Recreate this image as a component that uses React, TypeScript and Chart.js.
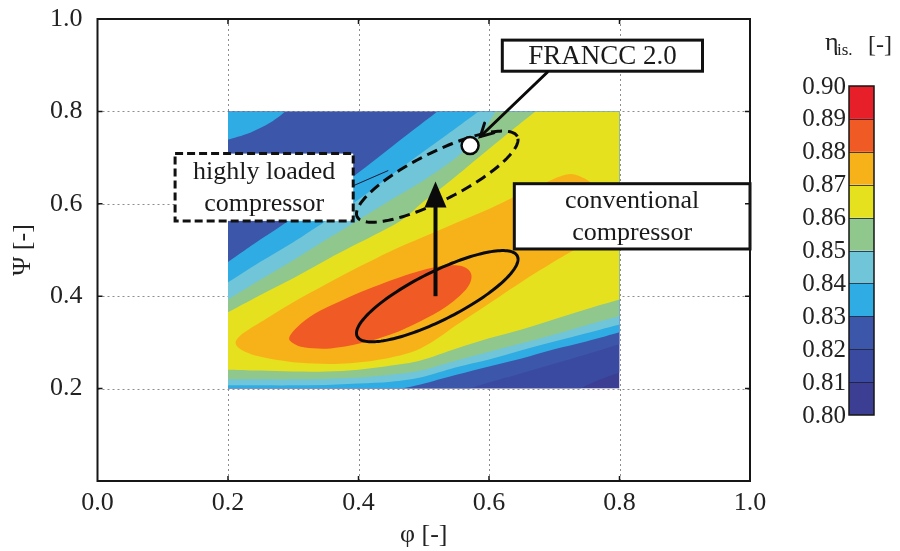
import React, { useEffect, useRef } from 'react';
import { Chart, registerables } from 'chart.js';

Chart.register(...registerables);

// ---------- data ----------
// extent of the efficiency map (phi, psi)
const DOMAIN_PHI = [0.2, 0.8];
const DOMAIN_PSI = [0.2, 0.8];

// iso-efficiency boundaries: region where eta >= level, points are [phi, psi]
const ISO_081 = [[0.2, 0.8], [0.8, 0.8], [0.8, 0.235], [0.771, 0.22], [0.74, 0.2], [0.2, 0.2]];
const ISO_082 = [[0.2, 0.8], [0.8, 0.8], [0.8, 0.296], [0.749, 0.274], [0.7, 0.254], [0.65, 0.233], [0.6, 0.213], [0.571, 0.2], [0.2, 0.2]];
const ISO_083_MAIN = [
  [0.2, 0.474], [0.249, 0.522], [0.3, 0.57], [0.35, 0.62], [0.392, 0.659], [0.43, 0.7], [0.475, 0.75], [0.521, 0.8],
  [0.8, 0.8], [0.8, 0.322], [0.749, 0.302], [0.7, 0.285], [0.65, 0.265], [0.6, 0.248], [0.55, 0.23], [0.495, 0.209],
  [0.464, 0.2], [0.2, 0.2],
];
const ISO_083_CORNER = [[0.2, 0.8], [0.288, 0.8], [0.265, 0.776], [0.234, 0.754], [0.2, 0.739]];
const ISO_084 = [
  [0.2, 0.43], [0.249, 0.474], [0.3, 0.517], [0.35, 0.563], [0.387, 0.596], [0.439, 0.65], [0.487, 0.7], [0.536, 0.75],
  [0.584, 0.8], [0.8, 0.8], [0.8, 0.339], [0.749, 0.32], [0.7, 0.302], [0.65, 0.283], [0.6, 0.263], [0.55, 0.246],
  [0.495, 0.224], [0.45, 0.215], [0.4, 0.211], [0.35, 0.208], [0.3, 0.207], [0.249, 0.207], [0.2, 0.207],
];
const ISO_085 = [
  [0.2, 0.393], [0.249, 0.435], [0.3, 0.478], [0.35, 0.522], [0.4, 0.565], [0.45, 0.609], [0.499, 0.65], [0.55, 0.7],
  [0.587, 0.75], [0.61, 0.8], [0.8, 0.8], [0.8, 0.357], [0.749, 0.337], [0.7, 0.317], [0.65, 0.298], [0.6, 0.28],
  [0.55, 0.261], [0.495, 0.239], [0.45, 0.23], [0.4, 0.224], [0.35, 0.221], [0.3, 0.22], [0.249, 0.22], [0.2, 0.22],
];
const ISO_086 = [
  [0.2, 0.365], [0.249, 0.402], [0.3, 0.439], [0.35, 0.478], [0.4, 0.515], [0.464, 0.563], [0.499, 0.604], [0.541, 0.65],
  [0.584, 0.7], [0.627, 0.75], [0.671, 0.8], [0.8, 0.8], [0.8, 0.393], [0.749, 0.372], [0.7, 0.35], [0.65, 0.328],
  [0.6, 0.309], [0.55, 0.287], [0.495, 0.261], [0.45, 0.25], [0.4, 0.241], [0.35, 0.237], [0.3, 0.237], [0.249, 0.239],
  [0.2, 0.241],
];
const ISO_087 = [
  [0.212, 0.296], [0.219, 0.315], [0.249, 0.343], [0.3, 0.387], [0.35, 0.426], [0.4, 0.463], [0.45, 0.498], [0.499, 0.528],
  [0.55, 0.559], [0.6, 0.589], [0.639, 0.615], [0.679, 0.641], [0.717, 0.663], [0.74, 0.659], [0.763, 0.633],
  [0.771, 0.567], [0.755, 0.513], [0.728, 0.498], [0.679, 0.457], [0.617, 0.4], [0.556, 0.343], [0.495, 0.287],
  [0.433, 0.263], [0.372, 0.254], [0.311, 0.256], [0.257, 0.267], [0.226, 0.28],
];
const ISO_088 = [
  [0.294, 0.311], [0.3075, 0.335], [0.334, 0.363], [0.372, 0.389], [0.418, 0.417], [0.478, 0.448], [0.525, 0.465],
  [0.559, 0.465], [0.573, 0.446], [0.565, 0.415], [0.533, 0.376], [0.495, 0.346], [0.449, 0.317], [0.403, 0.298],
  [0.357, 0.287], [0.318, 0.289], [0.3, 0.298],
];

const LEVELS = [0.80, 0.81, 0.82, 0.83, 0.84, 0.85, 0.86, 0.87, 0.88, 0.89, 0.90];
const LEVEL_LABELS = ['0.80', '0.81', '0.82', '0.83', '0.84', '0.85', '0.86', '0.87', '0.88', '0.89', '0.90'];
const LEVEL_COLORS = ['#3c3e94', '#3a4aa1', '#3c56aa', '#2facE3', '#70c5d9', '#90c78d', '#e6e11e', '#f8b219', '#f05a25', '#e61f28'];

const REGIONS = [
  { level: 0.81, ring: ISO_081 },
  { level: 0.82, ring: ISO_082 },
  { level: 0.83, ring: ISO_083_MAIN },
  { level: 0.83, ring: ISO_083_CORNER },
  { level: 0.84, ring: ISO_084 },
  { level: 0.85, ring: ISO_085 },
  { level: 0.86, ring: ISO_086 },
  { level: 0.87, ring: ISO_087 },
  { level: 0.88, ring: ISO_088 },
];

const AXIS_TICKS = [0.0, 0.2, 0.4, 0.6, 0.8, 1.0];
const GRID_VALUES = [0.2, 0.4, 0.6, 0.8];

// annotations (data units)
const FRANCC_POINT = { phi: 0.571, psi: 0.726 };
const FRANCC_LABEL = 'FRANCC 2.0';
const FRANCC_BOX = [0.6204, 0.9543, 0.9272, 0.887];
const FRANCC_ARROW = [0.6894, 0.8848, 0.5867, 0.7457];

const CONV_LABEL = ['conventional', 'compressor'];
const CONV_BOX = [0.6388, 0.6435, 1.0, 0.5022];
const CONV_ELLIPSE = { c: [0.5207, 0.40], a: [0.1227, 0.0870], b: [-0.0164, 0.0467] };

const HL_LABEL = ['highly loaded', 'compressor'];
const HL_BOX = [0.1189, 0.7087, 0.3919, 0.563];
const HL_ELLIPSE = { c: [0.5207, 0.6587], a: [0.1227, 0.0870], b: [-0.0164, 0.0467] };
const HL_LEADER = [0.3919, 0.639, 0.4456, 0.672];

const MAIN_ARROW = [0.518, 0.40, 0.518, 0.648];

// ---------- helpers ----------
const SERIF = "'Liberation Serif', 'Times New Roman', 'DejaVu Serif', serif";
const font = (s: number) => `${s}px ${SERIF}`;

function bandIndex(v: number) {
  const step = LEVELS[1] - LEVELS[0];
  const k = Math.floor((v - LEVELS[0]) / step + 1e-6);
  return Math.max(0, Math.min(LEVEL_COLORS.length - 1, k));
}

function onEdge(p: number[]) {
  const e = 1e-6;
  return (
    Math.abs(p[0] - DOMAIN_PHI[0]) < e || Math.abs(p[0] - DOMAIN_PHI[1]) < e ||
    Math.abs(p[1] - DOMAIN_PSI[0]) < e || Math.abs(p[1] - DOMAIN_PSI[1]) < e
  );
}

function tracePath(ctx: CanvasRenderingContext2D, xs: any, ys: any, ring: number[][]) {
  const n = ring.length;
  const pts = ring.map((p) => [xs.getPixelForValue(p[0]), ys.getPixelForValue(p[1])]);
  const edge = ring.map(onEdge);
  ctx.moveTo(pts[0][0], pts[0][1]);
  for (let i = 0; i < n; i++) {
    const i1 = (i + 1) % n;
    const a = pts[i], b = pts[i1];
    if (edge[i] && edge[i1]) {
      ctx.lineTo(b[0], b[1]);
      continue;
    }
    const p0 = edge[i] ? a : pts[(i - 1 + n) % n];
    const p3 = edge[i1] ? b : pts[(i + 2) % n];
    const c1x = a[0] + (b[0] - p0[0]) / 6, c1y = a[1] + (b[1] - p0[1]) / 6;
    const c2x = b[0] - (p3[0] - a[0]) / 6, c2y = b[1] - (p3[1] - a[1]) / 6;
    ctx.bezierCurveTo(c1x, c1y, c2x, c2y, b[0], b[1]);
  }
  ctx.closePath();
}

function ellipsePath(ctx: CanvasRenderingContext2D, xs: any, ys: any, e: any) {
  const cx = xs.getPixelForValue(e.c[0]), cy = ys.getPixelForValue(e.c[1]);
  const ax = xs.getPixelForValue(e.c[0] + e.a[0]) - cx, ay = ys.getPixelForValue(e.c[1] + e.a[1]) - cy;
  const bx = xs.getPixelForValue(e.c[0] + e.b[0]) - cx, by = ys.getPixelForValue(e.c[1] + e.b[1]) - cy;
  ctx.beginPath();
  const N = 160;
  for (let k = 0; k <= N; k++) {
    const t = (k / N) * Math.PI * 2;
    const x = cx + ax * Math.cos(t) + bx * Math.sin(t);
    const y = cy + ay * Math.cos(t) + by * Math.sin(t);
    if (k === 0) ctx.moveTo(x, y); else ctx.lineTo(x, y);
  }
  ctx.closePath();
}

function drawBox(ctx: CanvasRenderingContext2D, xs: any, ys: any, box: number[], lines: string[], size: number, dashed: boolean) {
  const x0 = xs.getPixelForValue(box[0]), y0 = ys.getPixelForValue(box[1]);
  const x1 = xs.getPixelForValue(box[2]), y1 = ys.getPixelForValue(box[3]);
  ctx.save();
  ctx.fillStyle = '#ffffff';
  ctx.fillRect(x0, y0, x1 - x0, y1 - y0);
  ctx.strokeStyle = '#111';
  ctx.lineWidth = 3;
  ctx.setLineDash(dashed ? [8, 4] : []);
  ctx.strokeRect(x0, y0, x1 - x0, y1 - y0);
  ctx.setLineDash([]);
  ctx.fillStyle = '#1a1a1a';
  ctx.font = font(size);
  ctx.textAlign = 'center';
  ctx.textBaseline = 'middle';
  const cx = (x0 + x1) / 2, cy = (y0 + y1) / 2;
  const lh = 32;
  lines.forEach((t, k) => ctx.fillText(t, cx, cy + (k - (lines.length - 1) / 2) * lh + 1));
  ctx.restore();
}

// colorbar placement (canvas px)
const CB_LEFT = 841, CB_WIDTH = 25, CB_TOP = 78, CB_BOTTOM = 407;

const mapPlugin = {
  id: 'compressorMap',
  beforeDatasetsDraw(chart: any) {
    const { ctx, chartArea: ca } = chart;
    const xs = chart.scales.x, ys = chart.scales.y;
    ctx.save();
    // dotted grid
    ctx.strokeStyle = '#8e8e8e';
    ctx.lineWidth = 1;
    ctx.setLineDash([2, 3]);
    for (const v of GRID_VALUES) {
      const px = Math.round(xs.getPixelForValue(v)) + 0.5;
      ctx.beginPath(); ctx.moveTo(px, ca.top); ctx.lineTo(px, ca.bottom); ctx.stroke();
      const py = Math.round(ys.getPixelForValue(v)) + 0.5;
      ctx.beginPath(); ctx.moveTo(ca.left, py); ctx.lineTo(ca.right, py); ctx.stroke();
    }
    ctx.setLineDash([]);

    // filled contour bands
    const l = xs.getPixelForValue(DOMAIN_PHI[0]), r = xs.getPixelForValue(DOMAIN_PHI[1]);
    const t = ys.getPixelForValue(DOMAIN_PSI[1]), b = ys.getPixelForValue(DOMAIN_PSI[0]);
    ctx.save();
    ctx.beginPath();
    ctx.rect(l, t, r - l, b - t);
    ctx.clip();
    ctx.fillStyle = LEVEL_COLORS[0];
    ctx.fillRect(l, t, r - l, b - t);
    for (const reg of REGIONS) {
      ctx.fillStyle = LEVEL_COLORS[bandIndex(reg.level)];
      ctx.beginPath();
      tracePath(ctx, xs, ys, reg.ring);
      ctx.fill();
    }
    ctx.restore();

    // ellipses
    ctx.strokeStyle = '#0a0a0a';
    ctx.lineWidth = 3;
    ellipsePath(ctx, xs, ys, CONV_ELLIPSE);
    ctx.stroke();
    ctx.setLineDash([11, 6]);
    ellipsePath(ctx, xs, ys, HL_ELLIPSE);
    ctx.stroke();
    ctx.setLineDash([]);

    // thin leader line from the highly loaded box
    ctx.lineWidth = 1;
    ctx.strokeStyle = '#1a1a3a';
    ctx.beginPath();
    ctx.moveTo(xs.getPixelForValue(HL_LEADER[0]), ys.getPixelForValue(HL_LEADER[1]));
    ctx.lineTo(xs.getPixelForValue(HL_LEADER[2]), ys.getPixelForValue(HL_LEADER[3]));
    ctx.stroke();

    // main arrow
    ctx.strokeStyle = '#0a0a0a';
    const ax0 = xs.getPixelForValue(MAIN_ARROW[0]), ay0 = ys.getPixelForValue(MAIN_ARROW[1]);
    const ax1 = xs.getPixelForValue(MAIN_ARROW[2]), ay1 = ys.getPixelForValue(MAIN_ARROW[3]);
    const headLen = 26, headHalf = 11;
    ctx.lineWidth = 4;
    ctx.beginPath(); ctx.moveTo(ax0, ay0); ctx.lineTo(ax1, ay1 + headLen - 2); ctx.stroke();
    ctx.fillStyle = '#0a0a0a';
    ctx.beginPath();
    ctx.moveTo(ax1, ay1);
    ctx.lineTo(ax1 - headHalf, ay1 + headLen);
    ctx.lineTo(ax1 + headHalf, ay1 + headLen);
    ctx.closePath();
    ctx.fill();
    ctx.restore();
  },
  afterDatasetsDraw(chart: any) {
    const { ctx, chartArea: ca } = chart;
    const xs = chart.scales.x, ys = chart.scales.y;
    ctx.save();
    drawBox(ctx, xs, ys, HL_BOX, HL_LABEL, 26, true);
    drawBox(ctx, xs, ys, CONV_BOX, CONV_LABEL, 26, false);
    drawBox(ctx, xs, ys, FRANCC_BOX, [FRANCC_LABEL], 27, false);

    // FRANCC arrow
    const fx0 = xs.getPixelForValue(FRANCC_ARROW[0]), fy0 = ys.getPixelForValue(FRANCC_ARROW[1]);
    const fx1 = xs.getPixelForValue(FRANCC_ARROW[2]), fy1 = ys.getPixelForValue(FRANCC_ARROW[3]);
    ctx.strokeStyle = '#0a0a0a';
    ctx.lineWidth = 3;
    ctx.lineCap = 'round';
    ctx.beginPath(); ctx.moveTo(fx0, fy0); ctx.lineTo(fx1, fy1); ctx.stroke();
    const ang = Math.atan2(fy1 - fy0, fx1 - fx0);
    const hl = 14, spread = 0.5;
    ctx.beginPath();
    ctx.moveTo(fx1 - hl * Math.cos(ang - spread), fy1 - hl * Math.sin(ang - spread));
    ctx.lineTo(fx1, fy1);
    ctx.lineTo(fx1 - hl * Math.cos(ang + spread), fy1 - hl * Math.sin(ang + spread));
    ctx.stroke();
    ctx.lineCap = 'butt';

    // frame
    ctx.strokeStyle = '#161616';
    ctx.lineWidth = 2;
    ctx.strokeRect(ca.left, ca.top, ca.right - ca.left, ca.bottom - ca.top);
    // inward ticks
    ctx.lineWidth = 1.5;
    for (const v of GRID_VALUES) {
      const px = xs.getPixelForValue(v);
      const py = ys.getPixelForValue(v);
      ctx.beginPath();
      ctx.moveTo(px, ca.bottom); ctx.lineTo(px, ca.bottom - 5);
      ctx.moveTo(px, ca.top); ctx.lineTo(px, ca.top + 5);
      ctx.moveTo(ca.left, py); ctx.lineTo(ca.left + 5, py);
      ctx.moveTo(ca.right, py); ctx.lineTo(ca.right - 5, py);
      ctx.stroke();
    }

    // colorbar
    const lv0 = LEVELS[0], lv1 = LEVELS[LEVELS.length - 1];
    const cbY = (v: number) => CB_BOTTOM - ((v - lv0) / (lv1 - lv0)) * (CB_BOTTOM - CB_TOP);
    for (let k = 0; k < LEVEL_COLORS.length; k++) {
      const yTop = cbY(LEVELS[k + 1]), yBot = cbY(LEVELS[k]);
      ctx.fillStyle = LEVEL_COLORS[k];
      ctx.fillRect(CB_LEFT, yTop, CB_WIDTH, yBot - yTop);
    }
    ctx.strokeStyle = 'rgba(20,20,40,0.75)';
    ctx.lineWidth = 1;
    for (let k = 1; k < LEVELS.length - 1; k++) {
      const y = Math.round(cbY(LEVELS[k])) + 0.5;
      ctx.beginPath(); ctx.moveTo(CB_LEFT, y); ctx.lineTo(CB_LEFT + CB_WIDTH, y); ctx.stroke();
    }
    ctx.strokeStyle = '#161616';
    ctx.lineWidth = 1.5;
    ctx.strokeRect(CB_LEFT, CB_TOP, CB_WIDTH, CB_BOTTOM - CB_TOP);
    ctx.fillStyle = '#222';
    ctx.font = font(25);
    ctx.textAlign = 'right';
    ctx.textBaseline = 'middle';
    LEVELS.forEach((v, k) => ctx.fillText(LEVEL_LABELS[k], CB_LEFT - 3, cbY(v) + 1));
    // colorbar title
    ctx.textAlign = 'left';
    ctx.textBaseline = 'alphabetic';
    ctx.font = font(26);
    ctx.fillText('η', 817, 42);
    ctx.font = font(17);
    ctx.fillText('is.', 829, 47);
    ctx.font = font(24);
    ctx.fillText('[-]', 860, 44);
    ctx.restore();
  },
};

export default function App() {
  const ref = useRef<HTMLCanvasElement | null>(null);
  useEffect(() => {
    document.body.style.overflow = 'hidden';
    const canvas = ref.current;
    if (!canvas) return;
    const tickFont = { family: SERIF, size: 26 };
    const chart = new Chart(canvas, {
      type: 'scatter',
      data: {
        datasets: [
          {
            data: [{ x: FRANCC_POINT.phi, y: FRANCC_POINT.psi }],
            pointRadius: 8.5,
            pointHoverRadius: 8.5,
            pointBackgroundColor: '#ffffff',
            pointBorderColor: '#0a0a0a',
            pointBorderWidth: 2.5,
          },
        ],
      },
      options: {
        animation: false,
        responsive: true,
        maintainAspectRatio: false,
        events: [],
        layout: { padding: { top: 11, right: 142, left: 0, bottom: 0 } },
        plugins: { legend: { display: false }, tooltip: { enabled: false } },
        scales: {
          x: {
            type: 'linear',
            min: 0,
            max: 1,
            grid: { display: false, drawTicks: false },
            border: { display: false },
            afterBuildTicks: (s: any) => { s.ticks = AXIS_TICKS.map((v) => ({ value: v })); },
            ticks: {
              autoSkip: false,
              maxRotation: 0,
              padding: 7,
              color: '#222',
              font: tickFont,
              callback: (v: any) => Number(v).toFixed(1),
            },
            title: { display: true, text: 'φ [-]', color: '#222', font: { family: SERIF, size: 26 }, padding: 0 },
            afterFit: (s: any) => { s.height = 70; s.paddingLeft = 0; s.paddingRight = 0; },
          },
          y: {
            type: 'linear',
            min: 0,
            max: 1,
            grid: { display: false, drawTicks: false },
            border: { display: false },
            afterBuildTicks: (s: any) => { s.ticks = AXIS_TICKS.map((v) => ({ value: v })); },
            ticks: {
              autoSkip: false,
              padding: 15,
              color: '#222',
              font: tickFont,
              callback: (v: any) => (Math.abs(Number(v)) < 1e-9 ? '' : Number(v).toFixed(1)),
            },
            title: { display: true, text: 'Ψ [-]', color: '#222', font: { family: SERIF, size: 26 }, padding: 0 },
            afterFit: (s: any) => { s.width = 89.5; s.paddingTop = 0; s.paddingBottom = 0; },
          },
        },
      },
      plugins: [mapPlugin],
    } as any);
    return () => chart.destroy();
  }, []);
  return (
    <div style={{ position: 'relative', width: '884px', height: '543px' }}>
      <canvas ref={ref} />
    </div>
  );
}
